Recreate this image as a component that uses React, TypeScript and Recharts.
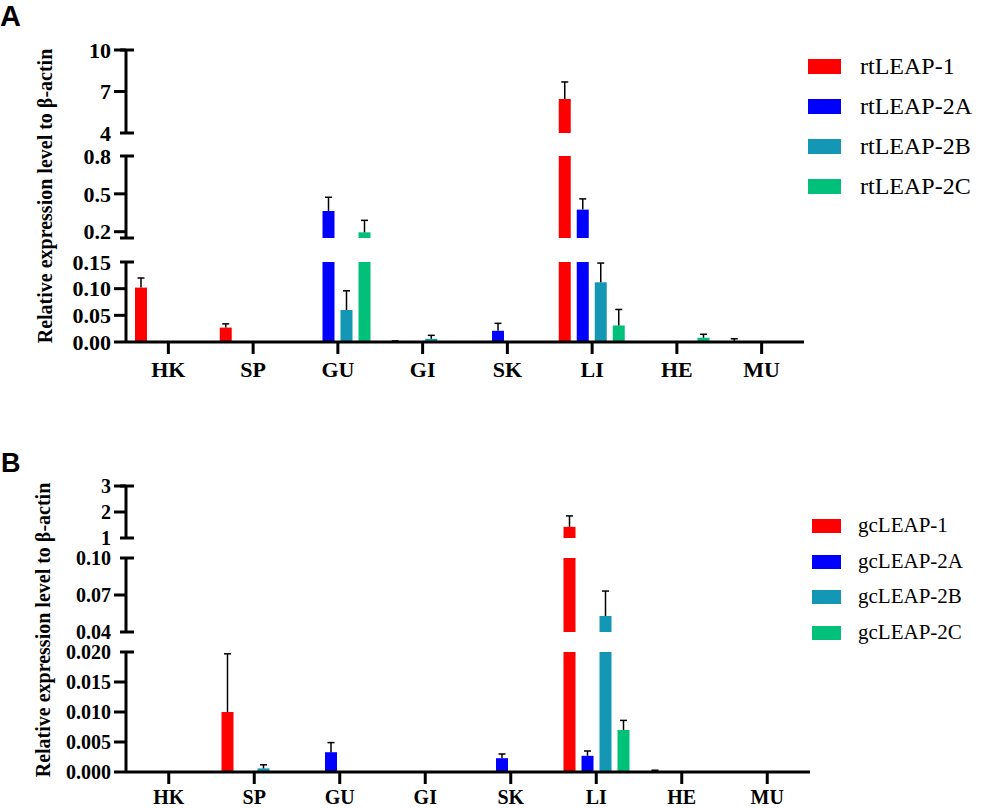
import React from "react";
import { Bar, BarChart, XAxis, YAxis } from "recharts";

const TISSUES = ["HK", "SP", "GU", "GI", "SK", "LI", "HE", "MU"];

const RT_NAMES = ["rtLEAP-1", "rtLEAP-2A", "rtLEAP-2B", "rtLEAP-2C"];
const GC_NAMES = ["gcLEAP-1", "gcLEAP-2A", "gcLEAP-2B", "gcLEAP-2C"];
const COLORS = ["#ff0000", "#0000ff", "#1497b4", "#00c07a"];

// rainbow trout, mean and upper SEM
const RT_LEAP1 = [0.102, 0.027, 0, 0.001, 0.0005, 6.46, 0, 0.001];
const RT_LEAP1_SEM = [0.018, 0.007, 0, 0.001, 0, 1.23, 0, 0.005];
const RT_LEAP2A = [0.001, 0, 0.364, 0.001, 0.021, 0.375, 0, 0];
const RT_LEAP2A_SEM = [0, 0, 0.109, 0, 0.014, 0.085, 0, 0];
const RT_LEAP2B = [0, 0, 0.06, 0.006, 0, 0.112, 0, 0];
const RT_LEAP2B_SEM = [0, 0, 0.036, 0.0065, 0, 0.036, 0, 0];
const RT_LEAP2C = [0.0015, 0, 0.195, 0, 0, 0.031, 0.008, 0.001];
const RT_LEAP2C_SEM = [0, 0, 0.095, 0, 0, 0.03, 0.0065, 0];

// grass carp
const GC_LEAP1 = [0, 0.01, 0, 0, 0, 1.43, 0.0001, 0];
const GC_LEAP1_SEM = [0, 0.0097, 0, 0, 0, 0.42, 0.0002, 0];
const GC_LEAP2A = [0, 0, 0.0033, 0, 0.0023, 0.0027, 0, 0];
const GC_LEAP2A_SEM = [0, 0, 0.0016, 0, 0.0007, 0.0008, 0, 0];
const GC_LEAP2B = [0, 0.0006, 0, 0, 0, 0.053, 0, 0];
const GC_LEAP2B_SEM = [0, 0.0006, 0, 0, 0, 0.0202, 0, 0];
const GC_LEAP2C = [0, 0, 0, 0, 0, 0.007, 0.00005, 0];
const GC_LEAP2C_SEM = [0, 0, 0, 0, 0, 0.0016, 0, 0];

// broken y axis: ticks per segment
const RT_TICKS_HIGH = [4, 7, 10];
const RT_TICKS_MID = [0.15, 0.2, 0.5, 0.8];
const RT_TICKS_LOW = [0, 0.05, 0.1, 0.15];
const GC_TICKS_HIGH = [1, 2, 3];
const GC_TICKS_MID = [0.04, 0.07, 0.1];
const GC_TICKS_LOW = [0, 0.005, 0.01, 0.015, 0.02];

const SERIF = "'Liberation Serif', 'Times New Roman', serif";
const SANS = "'Liberation Sans', Arial, sans-serif";
const AXIS_LEFT = 126;
const PAD = 14;

function buildRows(values: number[][], sems: number[][]) {
  return TISSUES.map((t, i) => {
    const row: Record<string, string | number> = { tissue: t };
    values.forEach((v, s) => {
      row["v" + s] = v[i];
      row["e" + s] = sems[s][i];
    });
    return row;
  });
}

const rtRows = buildRows(
  [RT_LEAP1, RT_LEAP2A, RT_LEAP2B, RT_LEAP2C],
  [RT_LEAP1_SEM, RT_LEAP2A_SEM, RT_LEAP2B_SEM, RT_LEAP2C_SEM]
);
const gcRows = buildRows(
  [GC_LEAP1, GC_LEAP2A, GC_LEAP2B, GC_LEAP2C],
  [GC_LEAP1_SEM, GC_LEAP2A_SEM, GC_LEAP2B_SEM, GC_LEAP2C_SEM]
);

type Seg = {
  domain: [number, number];
  ticks: number[];
  digits: number;
  top: number;
  height: number;
  unlabeled?: number[];
  first?: boolean;
};

const RT_SEGS: Seg[] = [
  { domain: [4, 10], ticks: RT_TICKS_HIGH, digits: 0, top: 50, height: 83, first: true },
  { domain: [0.15, 0.8], ticks: RT_TICKS_MID, digits: 1, top: 156, height: 82, unlabeled: [0.15] },
  { domain: [0, 0.15], ticks: RT_TICKS_LOW, digits: 2, top: 262, height: 80 },
];

const GC_SEGS: Seg[] = [
  { domain: [1, 3], ticks: GC_TICKS_HIGH, digits: 0, top: 486, height: 52, first: true },
  { domain: [0.04, 0.1], ticks: GC_TICKS_MID, digits: 2, top: 558, height: 74 },
  { domain: [0, 0.02], ticks: GC_TICKS_LOW, digits: 3, top: 652, height: 120 },
];

// upper-only error whisker, stacked on top of the mean bar
function Whisker(props: any) {
  const { x, y, width, height } = props;
  if (!height || height <= 0) return null;
  const cx = x + width / 2;
  return (
    <g>
      <line x1={cx} x2={cx} y1={y + height} y2={y} stroke="#000" strokeWidth={1.5} />
      <line x1={cx - 3.5} x2={cx + 3.5} y1={y} y2={y} stroke="#000" strokeWidth={1.5} />
    </g>
  );
}

function makeYTick(seg: Seg, fontSize: number) {
  return function YTick(props: any) {
    const { x, y, payload } = props;
    const v = payload.value;
    const ax = x + 15;
    const isEnd = v === seg.domain[0] || v === seg.domain[1];
    const showLabel = !(seg.unlabeled || []).includes(v);
    return (
      <g>
        {isEnd && v !== 0 ? (
          <line x1={ax - 6} x2={ax + 8} y1={y} y2={y} stroke="#000" strokeWidth={3} />
        ) : null}
        {!isEnd || v === 0 || (seg.first && v === seg.domain[1]) ? (
          <line x1={ax - 12} x2={ax} y1={y} y2={y} stroke="#000" strokeWidth={3} />
        ) : null}
        {showLabel ? (
          <text
            x={x}
            y={y}
            dy="0.35em"
            textAnchor="end"
            fontFamily={SERIF}
            fontWeight="bold"
            fontSize={fontSize}
            fill="#000"
          >
            {v.toFixed(seg.digits)}
          </text>
        ) : null}
      </g>
    );
  };
}

function makeXTick(fontSize: number) {
  return function XTick(props: any) {
    const { x, y, payload } = props;
    return (
      <text
        x={x}
        y={y + fontSize * 0.68}
        textAnchor="middle"
        fontFamily={SERIF}
        fontWeight="bold"
        fontSize={fontSize}
        fill="#000"
      >
        {payload.value}
      </text>
    );
  };
}

function Segment({
  rows,
  seg,
  bottom,
  plotWidth,
  fontSize,
  labelGap,
}: {
  rows: Record<string, string | number>[];
  seg: Seg;
  bottom: boolean;
  plotWidth: number;
  fontSize: number;
  labelGap: number;
}) {
  const xH = 36;
  const h = PAD + seg.height + (bottom ? xH : PAD);
  return (
    <div style={{ position: "absolute", left: 0, top: seg.top - PAD }}>
      <BarChart
        width={AXIS_LEFT + plotWidth}
        height={h}
        data={rows}
        margin={{ top: PAD, right: 0, bottom: bottom ? 0 : PAD, left: 0 }}
        barSize={12}
        barGap={6}
      >
        {COLORS.map((c, i) => (
          <Bar
            key={"v" + i}
            dataKey={"v" + i}
            stackId={"s" + i}
            fill={c}
            isAnimationActive={false}
          />
        ))}
        {COLORS.map((c, i) => (
          <Bar
            key={"e" + i}
            dataKey={"e" + i}
            stackId={"s" + i}
            fill="#000"
            shape={Whisker}
            isAnimationActive={false}
          />
        ))}
        <XAxis
          dataKey="tissue"
          hide={!bottom}
          height={xH}
          tickSize={12}
          tickMargin={labelGap}
          axisLine={{ stroke: "#000", strokeWidth: 3 }}
          tickLine={{ stroke: "#000", strokeWidth: 3 }}
          tick={makeXTick(fontSize)}
          interval={0}
        />
        <YAxis
          type="number"
          domain={seg.domain}
          allowDataOverflow
          ticks={seg.ticks}
          interval={0}
          width={AXIS_LEFT}
          tickSize={12}
          tickMargin={3}
          tickLine={false}
          axisLine={{ stroke: "#000", strokeWidth: 3 }}
          tick={makeYTick(seg, fontSize)}
        />
      </BarChart>
    </div>
  );
}

function LegendBox({
  names,
  centers,
  boxLeft,
  boxW,
  boxH,
  textLeft,
  fontSize,
}: {
  names: string[];
  centers: number[];
  boxLeft: number;
  boxW: number;
  boxH: number;
  textLeft: number;
  fontSize: number;
}) {
  return (
    <>
      {names.map((n, i) => (
        <React.Fragment key={n}>
          <div
            style={{
              position: "absolute",
              left: boxLeft,
              top: centers[i] - boxH / 2,
              width: boxW,
              height: boxH,
              background: COLORS[i],
            }}
          />
          <div
            style={{
              position: "absolute",
              left: textLeft,
              top: centers[i] - fontSize * 0.6,
              fontFamily: SERIF,
              fontSize,
              lineHeight: 1.2 + "",
              whiteSpace: "nowrap",
              color: "#000",
            }}
          >
            {n}
          </div>
        </React.Fragment>
      ))}
    </>
  );
}

export default function App() {
  return (
    <div
      style={{
        position: "absolute",
        left: 0,
        top: 0,
        width: 981,
        height: 808,
        background: "#fff",
        overflow: "hidden",
      }}
    >
      <style>{".recharts-surface{overflow:visible}"}</style>
      <svg width={981} height={808} style={{ position: "absolute", left: 0, top: 0 }}>
        <text x={0} y={26} fontFamily={SANS} fontWeight="bold" fontSize={29} fill="#000">
          A
        </text>
        <text x={1} y={472} fontFamily={SANS} fontWeight="bold" fontSize={27} fill="#000">
          B
        </text>
        <text
          transform="translate(52,196) rotate(-90)"
          textAnchor="middle"
          fontFamily={SERIF}
          fontWeight="bold"
          fontSize={20}
          fill="#000"
        >
          Relative expression level to β-actin
        </text>
        <text
          transform="translate(50,630) rotate(-90)"
          textAnchor="middle"
          fontFamily={SERIF}
          fontWeight="bold"
          fontSize={20}
          fill="#000"
        >
          Relative expression level to β-actin
        </text>
      </svg>

      {RT_SEGS.map((s, i) => (
        <Segment
          key={"rt" + i}
          rows={rtRows}
          seg={s}
          bottom={i === 2}
          plotWidth={678}
          fontSize={22}
          labelGap={8}
        />
      ))}
      {GC_SEGS.map((s, i) => (
        <Segment
          key={"gc" + i}
          rows={gcRows}
          seg={s}
          bottom={i === 2}
          plotWidth={684}
          fontSize={20}
          labelGap={6}
        />
      ))}

      <LegendBox
        names={RT_NAMES}
        centers={[66, 106, 146, 186]}
        boxLeft={808}
        boxW={33}
        boxH={15}
        textLeft={860}
        fontSize={24}
      />
      <LegendBox
        names={GC_NAMES}
        centers={[526, 562, 597, 633]}
        boxLeft={812}
        boxW={29}
        boxH={14}
        textLeft={858}
        fontSize={21}
      />
    </div>
  );
}
